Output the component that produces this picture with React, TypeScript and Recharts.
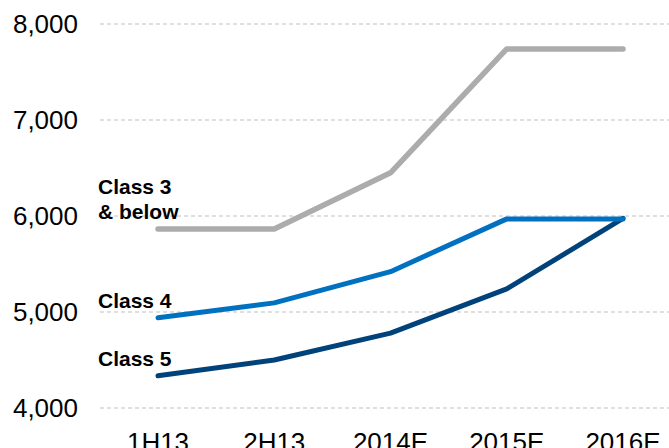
import { LineChart, Line, XAxis, YAxis, CartesianGrid, LabelList } from "recharts"

const periods = ["1H13", "2H13", "2014E", "2015E", "2016E"]
const class3 = [5865, 5865, 6450, 7740, 7740]
const class4 = [4940, 5095, 5420, 5970, 5970]
const class5 = [4335, 4500, 4780, 5240, 5975]
const yTicks = [4000, 5000, 6000, 7000, 8000]

const class3Label = ["Class 3", "& below"]
const class4Label = ["Class 4"]
const class5Label = ["Class 5"]

const data = periods.map((period, i) => ({
  period,
  class3: class3[i],
  class4: class4[i],
  class5: class5[i],
}))

const font = "'Liberation Sans', Arial, sans-serif"

// draws the series name to the left/above of the first point only
function seriesLabel(lines: string[]) {
  return (props: any) => {
    const { x, y, index } = props
    if (index !== 0) return null
    const left = x - 60
    return (
      <text fontSize={21} fontWeight="bold" fill="#000" fontFamily={font}>
        {lines.map((line, i) => (
          <tspan key={line} x={left} y={y - 18 - (lines.length - 1 - i) * 25 + 8}>
            {line}
          </tspan>
        ))}
      </text>
    )
  }
}

export default function App() {
  return (
    <div style={{ width: 669, height: 448, position: "absolute", left: 0, top: 0, background: "#fff" }}>
      <style>{"body{margin:0}"}</style>
      <LineChart width={669} height={448} data={data} margin={{ top: 24, right: 0, bottom: 0, left: 0 }}>
        <CartesianGrid vertical={false} stroke="#bfbfbf" strokeDasharray="4 3" />
        <XAxis
          dataKey="period"
          axisLine={false}
          tickLine={false}
          height={40}
          tickMargin={19}
          padding={{ left: 58, right: 46 }}
          tick={{ fontSize: 26, fill: "#000", fontFamily: font }}
          interval={0}
        />
        <YAxis
          domain={[4000, 8000]}
          ticks={yTicks}
          axisLine={false}
          tickLine={false}
          width={100}
          tickMargin={16}
          tickFormatter={(v: number) => v.toLocaleString("en-US")}
          tick={{ fontSize: 26, fill: "#000", fontFamily: font }}
        />
        <Line
          dataKey="class5"
          stroke="#00427a"
          strokeWidth={5}
          strokeLinecap="round"
          strokeLinejoin="round"
          dot={false}
          isAnimationActive={false}
        >
          <LabelList dataKey="class5" content={seriesLabel(class5Label)} />
        </Line>
        <Line
          dataKey="class4"
          stroke="#0070c0"
          strokeWidth={5}
          strokeLinecap="round"
          strokeLinejoin="round"
          dot={false}
          isAnimationActive={false}
        >
          <LabelList dataKey="class4" content={seriesLabel(class4Label)} />
        </Line>
        <Line
          dataKey="class3"
          stroke="#acacac"
          strokeWidth={5.5}
          strokeLinecap="round"
          strokeLinejoin="round"
          dot={false}
          isAnimationActive={false}
        >
          <LabelList dataKey="class3" content={seriesLabel(class3Label)} />
        </Line>
      </LineChart>
    </div>
  )
}
